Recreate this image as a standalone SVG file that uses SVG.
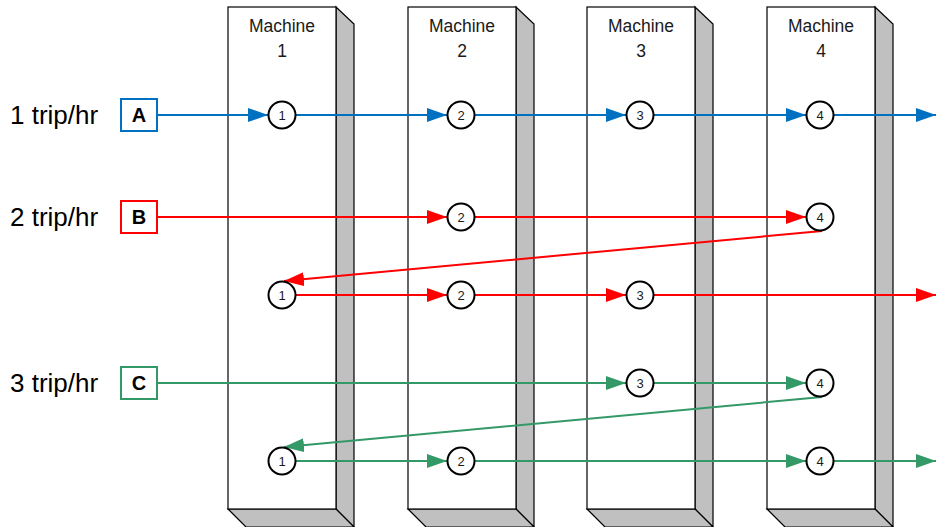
<svg xmlns="http://www.w3.org/2000/svg" width="936" height="527" viewBox="0 0 936 527">
  <style>
    .front { fill: #ffffff; stroke: #000; stroke-width: 1.2; }
    .side { fill: #c0c0c0; stroke: #000; stroke-width: 1.2; stroke-linejoin: miter; }
    .mlabel { font-family: "Liberation Sans", Arial, sans-serif; font-size: 17.5px; fill: #1a1a1a; text-anchor: middle; }
    .stop { fill: #ffffff; stroke: #000; stroke-width: 2; }
    .snum { font-family: "Liberation Sans", Arial, sans-serif; font-size: 13px; fill: #1a1a1a; text-anchor: middle; }
    .rate { font-family: "Liberation Sans", Arial, sans-serif; font-size: 26px; fill: #000; }
    .part { font-family: "Liberation Sans", Arial, sans-serif; font-size: 20px; font-weight: bold; fill: #000; text-anchor: middle; }
    .blue { stroke: #0070C0; fill: none; stroke-width: 2; }
    .red { stroke: #FF0000; fill: none; stroke-width: 2; }
    .green { stroke: #339966; fill: none; stroke-width: 2; }
  </style>
  <defs>
    <marker id="ah-blue" viewBox="0 0 20 14" refX="20" refY="7" markerWidth="20" markerHeight="14" markerUnits="userSpaceOnUse" orient="auto">
      <path d="M0,0 L20,7 L0,14 Z" fill="#0070C0"/>
    </marker>
    <marker id="ah-red" viewBox="0 0 20 14" refX="20" refY="7" markerWidth="20" markerHeight="14" markerUnits="userSpaceOnUse" orient="auto">
      <path d="M0,0 L20,7 L0,14 Z" fill="#FF0000"/>
    </marker>
    <marker id="ah-green" viewBox="0 0 20 14" refX="20" refY="7" markerWidth="20" markerHeight="14" markerUnits="userSpaceOnUse" orient="auto">
      <path d="M0,0 L20,7 L0,14 Z" fill="#339966"/>
    </marker>
    <!-- 3D machine column: front face plus right and bottom bevels -->
    <g id="machine">
      <path class="side" d="M108,0 L126,17 L126,520 L108,502 Z"/>
      <path class="side" d="M0,502 L108,502 L126,520 L18,520 Z"/>
      <rect class="front" x="0" y="0" width="108" height="502"/>
    </g>
  </defs>

  <!-- machines -->
  <g id="machine-1">
    <use href="#machine" x="228" y="7"/>
    <text class="mlabel" x="282" y="32">Machine</text>
    <text class="mlabel" x="282" y="57">1</text>
  </g>
  <g id="machine-2">
    <use href="#machine" x="408" y="7"/>
    <text class="mlabel" x="462" y="32">Machine</text>
    <text class="mlabel" x="462" y="57">2</text>
  </g>
  <g id="machine-3">
    <use href="#machine" x="587" y="7"/>
    <text class="mlabel" x="641" y="32">Machine</text>
    <text class="mlabel" x="641" y="57">3</text>
  </g>
  <g id="machine-4">
    <use href="#machine" x="767" y="7"/>
    <text class="mlabel" x="821" y="32">Machine</text>
    <text class="mlabel" x="821" y="57">4</text>
  </g>

  <!-- part labels -->
  <g id="part-A">
    <text class="rate" x="10" y="124">1 trip/hr</text>
    <rect x="121" y="99" width="36" height="32" fill="#fff" stroke="#0070C0" stroke-width="2"/>
    <text class="part" x="139" y="122">A</text>
  </g>
  <g id="part-B">
    <text class="rate" x="10" y="226">2 trip/hr</text>
    <rect x="121" y="201" width="36" height="32" fill="#fff" stroke="#FF0000" stroke-width="2"/>
    <text class="part" x="139" y="224">B</text>
  </g>
  <g id="part-C">
    <text class="rate" x="10" y="392">3 trip/hr</text>
    <rect x="121" y="367" width="36" height="32" fill="#fff" stroke="#339966" stroke-width="2"/>
    <text class="part" x="139" y="390">C</text>
  </g>

  <!-- routings -->
  <g id="connectors">
    <!-- A -->
    <line class="blue" x1="157" y1="115" x2="268" y2="115" marker-end="url(#ah-blue)"/>
    <line class="blue" x1="296" y1="115" x2="447" y2="115" marker-end="url(#ah-blue)"/>
    <line class="blue" x1="475" y1="115" x2="626" y2="115" marker-end="url(#ah-blue)"/>
    <line class="blue" x1="654" y1="115" x2="806" y2="115" marker-end="url(#ah-blue)"/>
    <line class="blue" x1="834" y1="115" x2="936" y2="115" marker-end="url(#ah-blue)"/>
    <!-- B -->
    <line class="red" x1="157" y1="217" x2="447" y2="217" marker-end="url(#ah-red)"/>
    <line class="red" x1="475" y1="217" x2="806" y2="217" marker-end="url(#ah-red)"/>
    <line class="red" x1="822" y1="231" x2="284" y2="281" marker-end="url(#ah-red)"/>
    <line class="red" x1="296" y1="295" x2="447" y2="295" marker-end="url(#ah-red)"/>
    <line class="red" x1="475" y1="295" x2="626" y2="295" marker-end="url(#ah-red)"/>
    <line class="red" x1="654" y1="295" x2="936" y2="295" marker-end="url(#ah-red)"/>
    <!-- C -->
    <line class="green" x1="157" y1="383" x2="626" y2="383" marker-end="url(#ah-green)"/>
    <line class="green" x1="654" y1="383" x2="806" y2="383" marker-end="url(#ah-green)"/>
    <line class="green" x1="822" y1="397" x2="284" y2="447" marker-end="url(#ah-green)"/>
    <line class="green" x1="296" y1="461" x2="447" y2="461" marker-end="url(#ah-green)"/>
    <line class="green" x1="475" y1="461" x2="806" y2="461" marker-end="url(#ah-green)"/>
    <line class="green" x1="834" y1="461" x2="936" y2="461" marker-end="url(#ah-green)"/>
  </g>

  <!-- operation stops -->
  <g id="stops">
    <g id="stop-A1"><circle class="stop" cx="282" cy="115" r="13.5"/><text class="snum" x="282" y="119.5">1</text></g>
    <g id="stop-A2"><circle class="stop" cx="461" cy="115" r="13.5"/><text class="snum" x="461" y="119.5">2</text></g>
    <g id="stop-A3"><circle class="stop" cx="640" cy="115" r="13.5"/><text class="snum" x="640" y="119.5">3</text></g>
    <g id="stop-A4"><circle class="stop" cx="820" cy="115" r="13.5"/><text class="snum" x="820" y="119.5">4</text></g>
    <g id="stop-B2"><circle class="stop" cx="461" cy="217" r="13.5"/><text class="snum" x="461" y="221.5">2</text></g>
    <g id="stop-B4"><circle class="stop" cx="820" cy="217" r="13.5"/><text class="snum" x="820" y="221.5">4</text></g>
    <g id="stop-B1b"><circle class="stop" cx="282" cy="295" r="13.5"/><text class="snum" x="282" y="299.5">1</text></g>
    <g id="stop-B2b"><circle class="stop" cx="461" cy="295" r="13.5"/><text class="snum" x="461" y="299.5">2</text></g>
    <g id="stop-B3b"><circle class="stop" cx="640" cy="295" r="13.5"/><text class="snum" x="640" y="299.5">3</text></g>
    <g id="stop-C3"><circle class="stop" cx="640" cy="383" r="13.5"/><text class="snum" x="640" y="387.5">3</text></g>
    <g id="stop-C4"><circle class="stop" cx="820" cy="383" r="13.5"/><text class="snum" x="820" y="387.5">4</text></g>
    <g id="stop-C1b"><circle class="stop" cx="282" cy="461" r="13.5"/><text class="snum" x="282" y="465.5">1</text></g>
    <g id="stop-C2b"><circle class="stop" cx="461" cy="461" r="13.5"/><text class="snum" x="461" y="465.5">2</text></g>
    <g id="stop-C4b"><circle class="stop" cx="820" cy="461" r="13.5"/><text class="snum" x="820" y="465.5">4</text></g>
  </g>
</svg>
